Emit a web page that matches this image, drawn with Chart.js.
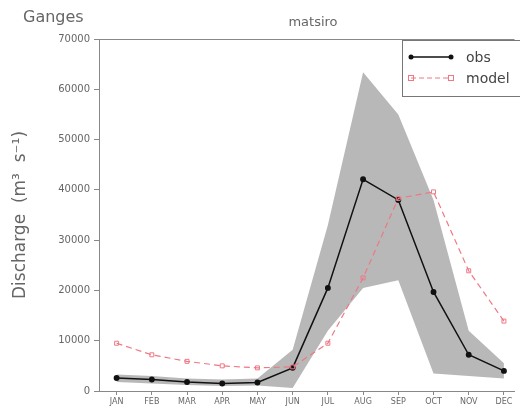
<!DOCTYPE html>
<html lang="en">
<head>
<meta charset="UTF-8">
<title>Ganges matsiro</title>
<script src="https://cdn.jsdelivr.net/npm/chart.js"></script>
<style>
  html, body { margin: 0; padding: 0; background: #fff; }
  #wrap { width: 520px; height: 412px; position: relative; }
</style>
</head>
<body>
<div id="wrap"><canvas id="myChart"></canvas></div>
<script>
// values (m3/s)
var months = ['JAN','FEB','MAR','APR','MAY','JUN','JUL','AUG','SEP','OCT','NOV','DEC'];
var obs    = [2600, 2300, 1800, 1500, 1700, 4600, 20500, 42100, 38000, 19700, 7200, 4000];
var model  = [9500, 7200, 5900, 5000, 4600, 4800, 9500, 22500, 38300, 39600, 23900, 13900];
var bandHi = [3300, 3000, 2500, 2300, 2500, 8200, 33000, 63400, 55000, 38000, 12000, 5500];
var bandLo = [1800, 1500, 1200, 1000, 1100, 600, 12000, 20500, 22000, 3500, 3000, 2500];
var yTicks = [0, 10000, 20000, 30000, 40000, 50000, 60000, 70000];

function pts(arr) {
  return arr.map(function (v, i) { return { x: i, y: v }; });
}

var pink = 'rgb(238,120,132)';
var textGrey = '#666';

const extras = {
  id: 'extras',
  afterDraw(chart) {
    const c = chart.ctx, a = chart.chartArea;
    c.save();
    // top frame line
    c.strokeStyle = '#888';
    c.lineWidth = 1;
    c.beginPath();
    c.moveTo(a.left, a.top + 0.5);
    c.lineTo(a.right, a.top + 0.5);
    c.stroke();
    // titles
    c.fillStyle = textGrey;
    c.textBaseline = 'alphabetic';
    c.font = '16px "DejaVu Sans"';
    c.textAlign = 'left';
    c.fillText('Ganges', 23, 22);
    c.font = '13px "DejaVu Sans"';
    c.textAlign = 'center';
    c.fillText('matsiro', 313, 26);
    // legend box
    c.fillStyle = '#fff';
    c.fillRect(402, 40, 118, 56);
    c.strokeStyle = '#777';
    c.strokeRect(402.5, 40.5, 118, 56);
    // obs entry
    c.strokeStyle = '#111';
    c.lineWidth = 1.5;
    c.beginPath(); c.moveTo(411, 57); c.lineTo(451, 57); c.stroke();
    c.fillStyle = '#111';
    [411, 451].forEach(function (x) { c.beginPath(); c.arc(x, 57, 2.5, 0, Math.PI * 2); c.fill(); });
    // model entry
    c.strokeStyle = pink;
    c.lineWidth = 1;
    c.setLineDash([5, 3]);
    c.beginPath(); c.moveTo(411, 78); c.lineTo(451, 78); c.stroke();
    c.setLineDash([]);
    [411, 451].forEach(function (x) { c.strokeRect(x - 2.5, 75.5, 5, 5); });
    c.fillStyle = '#444';
    c.font = '14px "DejaVu Sans"';
    c.textAlign = 'left';
    c.textBaseline = 'middle';
    c.fillText('obs', 466, 58);
    c.fillText('model', 466, 79);
    c.restore();
  }
};

const ctx = document.getElementById('myChart');

new Chart(ctx, {
  type: 'line',
  data: {
    datasets: [
      {
        label: 'upper',
        data: pts(bandHi),
        borderWidth: 0,
        pointRadius: 0,
        fill: false
      },
      {
        label: 'lower',
        data: pts(bandLo),
        borderWidth: 0,
        pointRadius: 0,
        fill: 0,
        backgroundColor: 'rgb(184,184,184)'
      },
      {
        label: 'model',
        data: pts(model),
        borderColor: pink,
        borderWidth: 1.2,
        borderDash: [6, 4],
        pointStyle: 'rect',
        pointRadius: 2.8,
        pointBorderWidth: 1,
        pointBorderColor: pink,
        pointBackgroundColor: 'rgba(0,0,0,0)',
        fill: false
      },
      {
        label: 'obs',
        data: pts(obs),
        borderColor: '#111',
        borderWidth: 1.5,
        pointRadius: 2.2,
        pointBackgroundColor: '#111',
        pointBorderColor: '#111',
        fill: false
      }
    ]
  },
  options: {
    responsive: true,
    maintainAspectRatio: false,
    animation: false,
    layout: { padding: { top: 39, left: 0, right: 0, bottom: 0 } },
    plugins: {
      legend: { display: false },
      tooltip: { enabled: false },
      filler: { drawTime: 'beforeDatasetsDraw' }
    },
    scales: {
      x: {
        type: 'linear',
        min: -0.5,
        max: 11.3,
        afterBuildTicks: function (s) {
          s.ticks = months.map(function (m, i) { return { value: i }; });
        },
        afterFit: function (s) { s.height = 21; },
        ticks: {
          autoSkip: false,
          maxRotation: 0,
          padding: 2,
          color: textGrey,
          font: { family: 'DejaVu Sans', size: 8 },
          callback: function (v) { return months[v]; }
        },
        grid: { drawOnChartArea: false, tickLength: 4, color: '#888' },
        border: { color: '#888' }
      },
      y: {
        min: 0,
        max: 70000,
        afterBuildTicks: function (s) {
          s.ticks = yTicks.map(function (v) { return { value: v }; });
        },
        afterFit: function (s) { s.width = 99; },
        ticks: {
          padding: 4,
          color: textGrey,
          font: { family: 'DejaVu Sans', size: 10 },
          callback: function (v) { return String(v); }
        },
        grid: { drawOnChartArea: false, tickLength: 5, color: '#888' },
        border: { color: '#888' },
        title: {
          display: true,
          text: 'Discharge  (m³  s⁻¹)',
          color: textGrey,
          padding: { top: 10, bottom: 0 },
          font: { family: 'DejaVu Sans', size: 17 }
        }
      }
    }
  },
  plugins: [extras]
});
</script>
</body>
</html>
